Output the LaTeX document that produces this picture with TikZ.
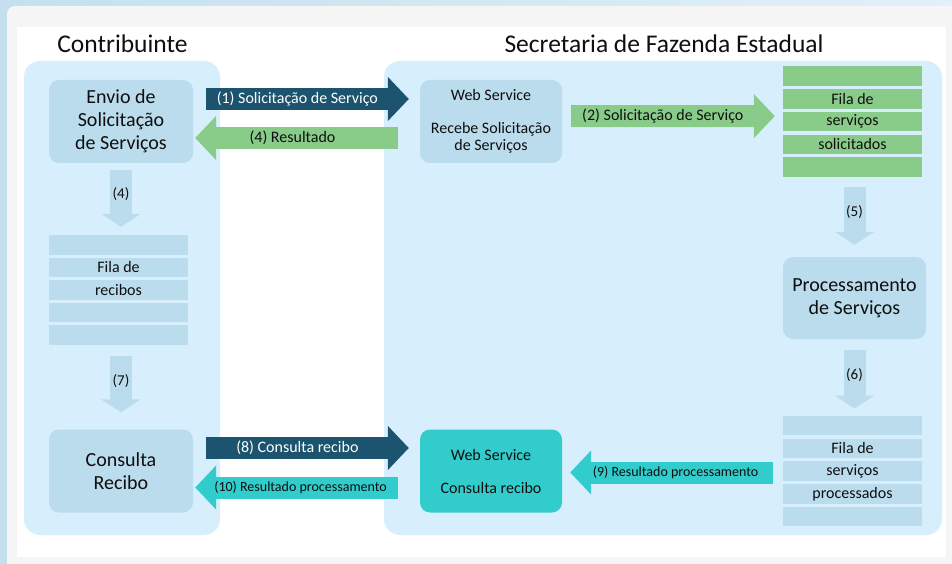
\documentclass[tikz,border=0pt]{standalone}
\usepackage{fontspec}
\setmainfont{Carlito}
\usetikzlibrary{arrows.meta,positioning}

\definecolor{panelblue}{RGB}{215,239,252}
\definecolor{boxblue}{RGB}{186,220,236}
\definecolor{darkblue}{RGB}{28,84,112}
\definecolor{lightgreen}{RGB}{137,203,136}
\definecolor{cyanbox}{RGB}{51,204,204}
\definecolor{cardgray}{RGB}{245,245,245}
\definecolor{skyA}{RGB}{196,224,238}
\definecolor{skyB}{RGB}{226,240,247}
\definecolor{txt}{RGB}{15,15,15}

\begin{document}
\begin{tikzpicture}[x=1pt, y=-1pt,
  box/.style={fill=boxblue, rounded corners=10pt, minimum width=144pt, minimum height=83pt,
    inner sep=0pt, align=center, text=txt, font=\fontsize{20}{23}\selectfont},
  wsbox/.style={box, minimum width=142pt, font=\fontsize{16}{16.5}\selectfont},
  qrow/.style={minimum width=139pt, minimum height=19.5pt, inner sep=0pt, text=txt,
    font=\fontsize{16}{19}\selectfont},
  fatarrow/.style={line width=22pt, -{Triangle[length=21pt 0, width=43pt 0]}},
  downarrow/.style={line width=22pt, boxblue, -{Triangle[length=13pt 0, width=39pt 0]}},
  lbl/.style={font=\fontsize{16}{19}\selectfont, inner sep=0pt},
  smalllbl/.style={font=\fontsize{14}{17}\selectfont, inner sep=0pt},
  numlbl/.style={font=\fontsize{15}{18}\selectfont, inner sep=0pt, text=txt},
  title/.style={font=\fontsize{25.5}{30}\selectfont, text=txt}
  ]
  \useasboundingbox (0,0) rectangle (952,564);

  % Background and card
  \shade[left color=skyA, right color=skyB] (0,0) rectangle (952,564);
  \fill[cardgray, rounded corners=8pt] (7,6) rectangle (960,572);
  \fill[white] (17,27) rectangle (946,557);

  % Panels
  \fill[panelblue, rounded corners=16pt] (24,61) rectangle (220,535);
  \fill[panelblue, rounded corners=16pt] (384,61) rectangle (942,535);
  \node[title] (contrib) at (122.5,44) {Contribuinte};
  \node[title] (sefaz) at (664,44) {Secretaria de Fazenda Estadual};

  % Boxes
  \node[box] (envio) at (121,121.5) {Envio de\\Solicitação\\de Serviços};
  \node[box] (consulta) at (121,471) {Consulta\\Recibo};
  \node[wsbox] (ws1) at (491,121.5) {Web Service\\[16.5pt]Recebe Solicitação\\de Serviços};
  \node[wsbox, fill=cyanbox] (ws2) at (491,471) {Web Service\\[16.5pt]Consulta recibo};
  \node[box, minimum width=143pt, minimum height=82pt] (proc) at (854.5,298)
    {Processamento\\de Serviços};

  % Queues
  \foreach \i/\t in {1/,2/Fila de,3/recibos,4/,5/}
    \node[qrow, fill=boxblue] (rec\i) at (118.5,{244.75+(\i-1)*22.5}) {\t};
  \foreach \i/\t in {1/,2/Fila de,3/serviços,4/solicitados,5/}
    \node[qrow, fill=lightgreen] (sol\i) at (852.5,{76.25+(\i-1)*22.7}) {\t};
  \foreach \i/\t in {1/,2/Fila de,3/serviços,4/processados,5/}
    \node[qrow, fill=boxblue] (pro\i) at (852.5,{425.5+(\i-1)*22.75}) {\t};

  % Horizontal arrows
  \draw[fatarrow, darkblue] ([shift={(13,-22.5)}]envio.east) -- ([shift={(-11,-22.5)}]ws1.west)
    node[pos=.45, lbl, text=white] (l1) {(1) Solicitação de Serviço};
  \draw[fatarrow, lightgreen] ([shift={(-22,16.5)}]ws1.west) -- ([shift={(2,16.5)}]envio.east)
    node[pos=.52, lbl, text=txt] (l4) {(4) Resultado};
  \draw[fatarrow, lightgreen] ([shift={(9,-5.5)}]ws1.east) -- ([shift={(-8,-5.5)}]sol3.west)
    node[pos=.45, lbl, text=txt] (l2) {(2) Solicitação de Serviço};
  \draw[fatarrow, cyanbox] ([shift={(-10,1.5)}]pro3.west) -- ([shift={(8,1.5)}]ws2.east)
    node[pos=.48, smalllbl, text=txt] (l9) {(9) Resultado processamento};
  \draw[fatarrow, darkblue] ([shift={(13,-23)}]consulta.east) -- ([shift={(-11,-23)}]ws2.west)
    node[pos=.45, lbl, text=white] (l8) {(8) Consulta recibo};
  \draw[fatarrow, cyanbox] ([shift={(-22,16.5)}]ws2.west) -- ([shift={(2,16.5)}]consulta.east)
    node[pos=.48, smalllbl, text=txt] (l10) {(10) Resultado processamento};

  % Vertical arrows
  \coordinate (q4) at (envio.south |- rec1.north);
  \coordinate (q7) at (rec5.south -| consulta.north);
  \coordinate (q5) at (sol5.south -| proc.north);
  \coordinate (q6) at (pro1.north -| proc.south);
  \draw[downarrow] ([yshift=-7pt]envio.south) -- ([yshift=8pt]q4)
    node[pos=.42, numlbl] (n4) {(4)};
  \draw[downarrow] ([yshift=-11pt]q7) -- ([yshift=17pt]consulta.north)
    node[pos=.44, numlbl] (n7) {(7)};
  \draw[downarrow] ([yshift=-10pt]q5) -- ([yshift=12pt]proc.north)
    node[pos=.43, numlbl] (n5) {(5)};
  \draw[downarrow] ([yshift=-11pt]proc.south) -- ([yshift=7pt]q6)
    node[pos=.43, numlbl] (n6) {(6)};
\end{tikzpicture}
\end{document}
